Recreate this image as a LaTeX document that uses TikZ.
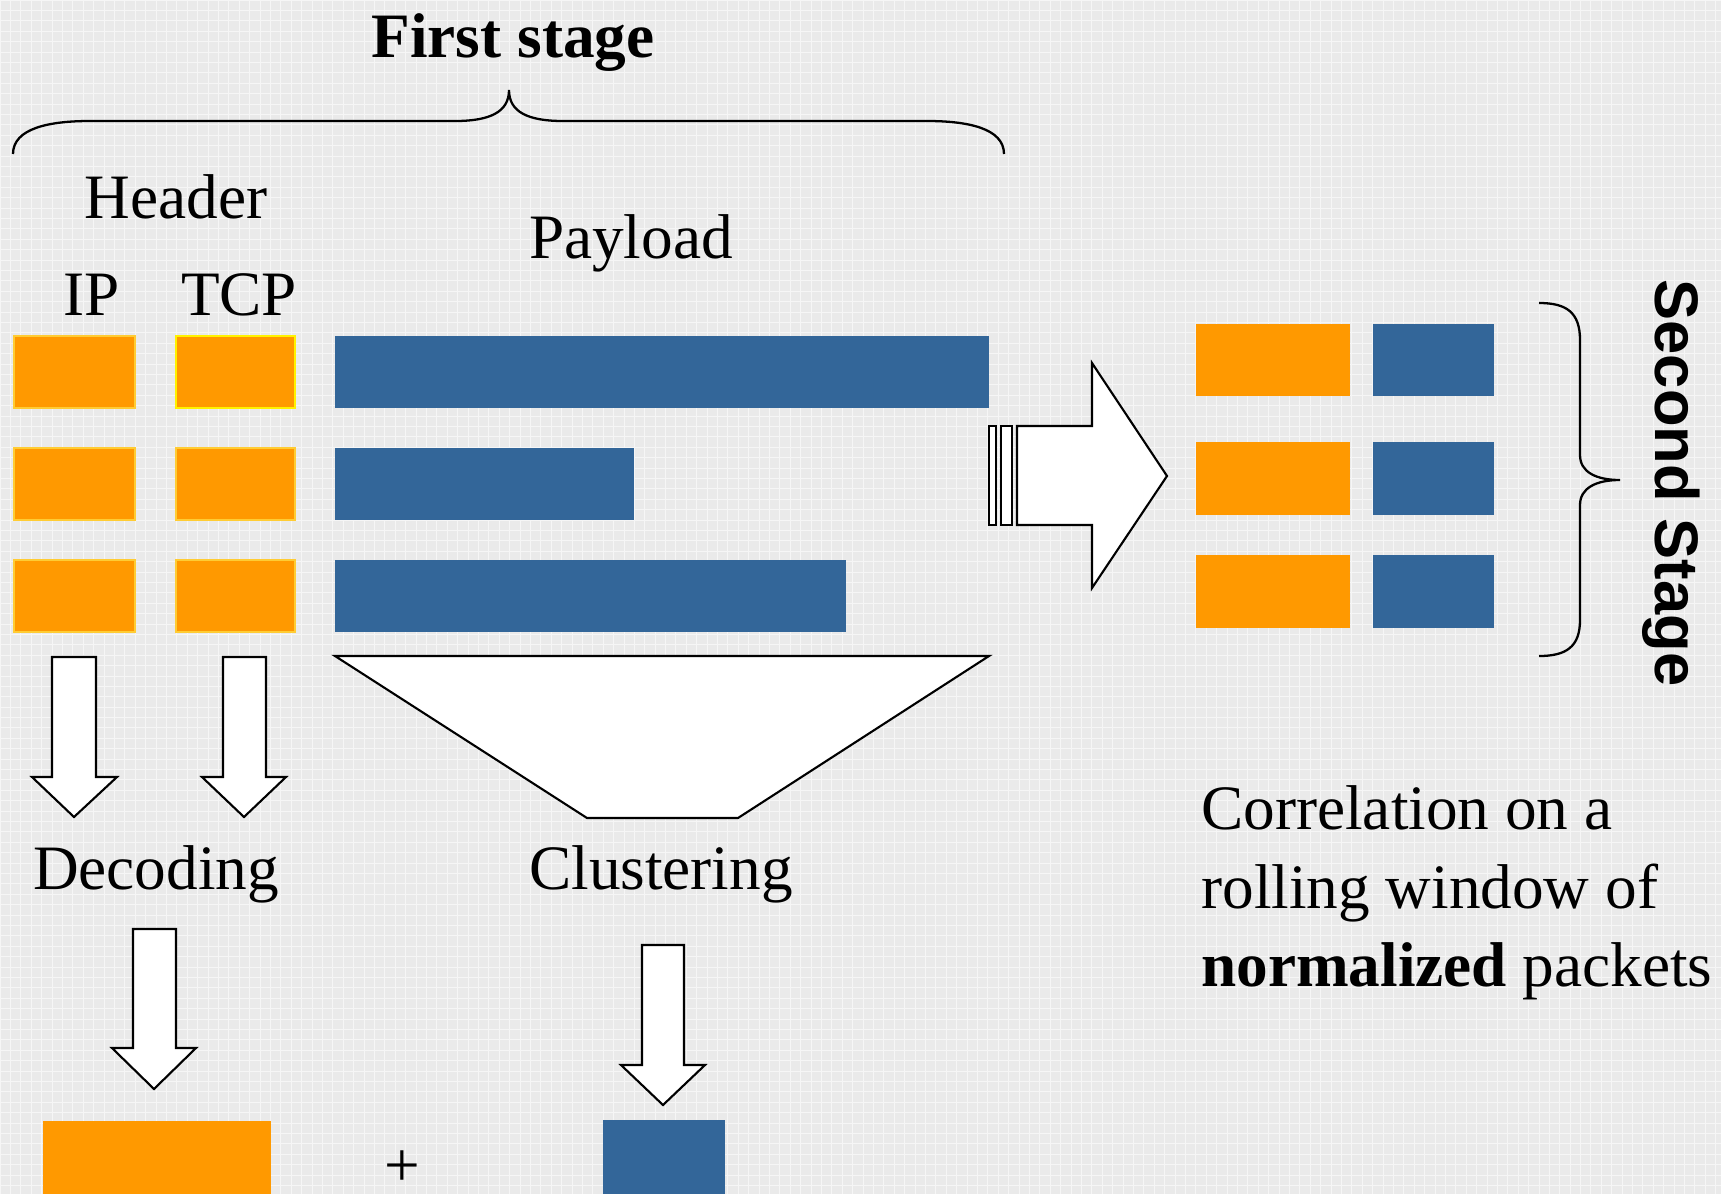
\documentclass[tikz,border=0pt]{standalone}
\usepackage{fontspec}
\setmainfont{Liberation Serif}
\newfontfamily\stagefont{Liberation Sans}
\newcommand{\slidefont}{\fontsize{36}{44}\selectfont}
\definecolor{hdrorange}{HTML}{FF9900}
\definecolor{payblue}{HTML}{336699}
\definecolor{hdrrim}{HTML}{FFCC33}
\definecolor{slidebg}{HTML}{EAEAEA}
\definecolor{slidegrid}{HTML}{F6F6F6}

\begin{document}
\begin{tikzpicture}
        [x=0.02cm, y=-0.02cm,
        label/.style={font=\slidefont, inner sep=0pt, anchor=base},
        header/.style={fill=hdrorange, draw=hdrrim, line width=0.6pt},
        payload/.style={fill=payblue},
        blockarrow/.style={fill=white, draw=black, line width=1.2pt},
        brace/.style={draw=black, line width=1.3pt}]

        % slide background
        \useasboundingbox (0,0) rectangle (1721,1194);
        \fill[slidebg] (0,0) rectangle (1721,1194);
        \draw[slidegrid, line width=0.4pt] (0,0) grid[step=0.208cm] (1721,1194);

        % texts
        \node[label, font=\slidefont\bfseries] (first) at (513,57) {First stage};
        \node[label] (header) at (176,218) {Header};
        \node[label] (ip) at (92,315) {IP};
        \node[label] (tcp) at (239,315) {TCP};
        \node[label] (payload) at (631,258) {Payload};
        \node[label] (decoding) at (156,889) {Decoding};
        \node[label] (clustering) at (661,889) {Clustering};
        \node[label, anchor=center] (plus) at (402,1169) {+};
        \node[label, anchor=base west] (corr1) at (1201,829) {Correlation on a};
        \node[label, anchor=base west] (corr2) at (1201,908) {rolling window of};
        \node[label, anchor=base west] (corr3) at (1201,986) {\textbf{normalized} packets};
        \node[inner sep=0pt, anchor=base, rotate=-90, font=\stagefont\fontsize{35}{42}\selectfont\bfseries]
            (second) at (1655,483) {Second Stage};

        % braces
        \draw[brace] (13,154) .. controls (13,128) and (50,121) .. (90,121) -- (455,121)
            .. controls (490,121) and (509,112) .. (509,90)
            .. controls (509,112) and (528,121) .. (563,121) -- (927,121)
            .. controls (967,121) and (1004,128) .. (1004,154);
        \draw[brace] (1539,303) .. controls (1566,303) and (1580,312) .. (1580,340) -- (1580,455)
            .. controls (1580,472) and (1596,480) .. (1620,480)
            .. controls (1596,480) and (1580,488) .. (1580,505) -- (1580,620)
            .. controls (1580,647) and (1566,656) .. (1539,656);

        % packets of the first stage
        \draw[header] (14,336) rectangle (135,408);
        \draw[header, draw=yellow, line width=1.2pt] (176,336) rectangle (295,408);
        \fill[payload] (335,336) rectangle (989,408);
        \draw[header] (14,448) rectangle (135,520);
        \draw[header] (176,448) rectangle (295,520);
        \fill[payload] (335,448) rectangle (634,520);
        \draw[header] (14,560) rectangle (135,632);
        \draw[header] (176,560) rectangle (295,632);
        \fill[payload] (335,560) rectangle (846,632);

        % normalized packets of the second stage
        \fill[hdrorange] (1196,324) rectangle (1350,396);
        \fill[payload] (1373,324) rectangle (1494,396);
        \fill[hdrorange] (1196,442) rectangle (1350,515);
        \fill[payload] (1373,442) rectangle (1494,515);
        \fill[hdrorange] (1196,555) rectangle (1350,628);
        \fill[payload] (1373,555) rectangle (1494,628);

        % results
        \fill[hdrorange] (43,1121) rectangle (271,1194);
        \fill[payload] (603,1120) rectangle (725,1194);

        % block arrows
        \draw[blockarrow] (52,657) -- (96,657) -- (96,777) -- (117,777) -- (74,817)
            -- (32,777) -- (52,777) -- cycle;
        \draw[blockarrow] (223,657) -- (266,657) -- (266,777) -- (286,777) -- (244,817)
            -- (202,777) -- (223,777) -- cycle;
        \draw[blockarrow] (133,929) -- (176,929) -- (176,1048) -- (196,1048) -- (154,1089)
            -- (112,1048) -- (133,1048) -- cycle;
        \draw[blockarrow] (642,945) -- (684,945) -- (684,1065) -- (705,1065) -- (663,1105)
            -- (621,1065) -- (642,1065) -- cycle;
        \draw[blockarrow] (335,656) -- (989,656) -- (738,818) -- (587,818) -- cycle;

        % striped arrow to the second stage
        \draw[blockarrow] (989,426) rectangle (996,525);
        \draw[blockarrow] (1001,426) rectangle (1012,525);
        \draw[blockarrow] (1017,426) -- (1092,426) -- (1092,363) -- (1167,476)
            -- (1092,588) -- (1092,525) -- (1017,525) -- cycle;

    \end{tikzpicture}
\end{document}
